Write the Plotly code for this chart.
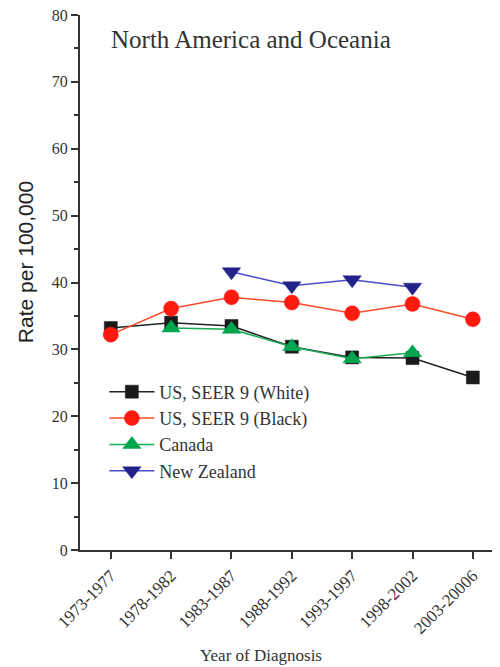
import plotly.graph_objects as go

periods = ["1973-1977", "1978-1982", "1983-1987", "1988-1992", "1993-1997", "1998-2002", "2003-20006"]
us_white = [33.2, 34.0, 33.5, 30.4, 28.8, 28.7, 25.8]
us_black = [32.2, 36.1, 37.8, 37.0, 35.4, 36.8, 34.5]
canada = [None, 33.2, 33.0, 30.4, 28.6, 29.5, None]
new_zealand = [None, None, 41.6, 39.5, 40.4, 39.3, None]

idx = list(range(len(periods)))
serif = "Liberation Serif, Times New Roman, serif"

fig = go.Figure()
series = [
    ("US, SEER 9 (White)", us_white, "#222222", "#1a1a1a", "square", 13),
    ("US, SEER 9 (Black)", us_black, "#ff4a2a", "#ff1a10", "circle", 15),
    ("Canada", canada, "#1aaa55", "#00a550", "triangle-up", 16),
    ("New Zealand", new_zealand, "#4a4acc", "#22228a", "triangle-down", 16),
]
for name, vals, lc, mc, sym, sz in series:
    fig.add_trace(go.Scatter(
        x=idx, y=vals, name=name, mode="lines+markers",
        line=dict(color=lc, width=1.5),
        marker=dict(symbol=sym, size=sz, color=mc, line=dict(width=0.5, color=mc)),
        connectgaps=False,
    ))

fig.update_layout(
    width=492, height=659,
    margin=dict(l=72, r=0, t=7, b=117),
    paper_bgcolor="white", plot_bgcolor="white",
    showlegend=True,
    legend=dict(x=0.058, y=0.33, xanchor="left", yanchor="top",
                font=dict(family=serif, size=18, color="#333333"),
                bgcolor="rgba(0,0,0,0)", tracegroupgap=0, itemwidth=45),
    annotations=[
        dict(text="North America and Oceania", xref="paper", yref="paper",
             x=0.068, y=0.955, xanchor="left", yanchor="middle", showarrow=False,
             font=dict(family=serif, size=25, color="#333333")),
        dict(text="Rate per 100,000", xref="paper", yref="paper",
             x=-0.131, y=0.538, xanchor="center", yanchor="middle", showarrow=False, textangle=-90,
             font=dict(family="Liberation Sans, Arial, sans-serif", size=21, color="#222222")),
        dict(text="Year of Diagnosis", xref="paper", yref="paper",
             x=0.43, y=-0.197, xanchor="center", yanchor="middle", showarrow=False,
             font=dict(family=serif, size=17, color="#333333")),
    ],
)
fig.update_xaxes(
    automargin=False, ticklabeloverflow="allow",
    range=[-0.51, 6.45], tickmode="array", tickvals=idx, ticktext=periods,
    tickangle=-45, ticks="outside", ticklen=7, tickwidth=2, tickcolor="#333333",
    showline=True, linecolor="#333333", linewidth=2, showgrid=False, zeroline=False,
    tickfont=dict(family=serif, size=17, color="#333333"),
)
fig.update_yaxes(
    automargin=False, ticklabeloverflow="allow",
    range=[0, 80], tickmode="array", tickvals=[0, 10, 20, 30, 40, 50, 60, 70, 80],
    ticks="outside", ticklen=7, tickwidth=2, tickcolor="#333333",
    minor=dict(tickvals=[5, 15, 25, 35, 45, 55, 65, 75], ticks="outside", ticklen=4, tickwidth=2, tickcolor="#333333"),
    showline=True, linecolor="#333333", linewidth=2, showgrid=False, zeroline=False,
    tickfont=dict(family=serif, size=16, color="#333333"),
)
fig.write_html("out.html")
